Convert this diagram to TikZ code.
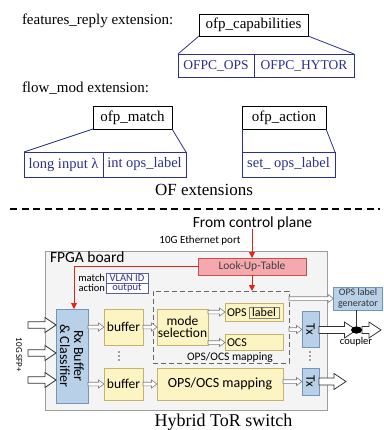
\documentclass[tikz,border=0pt]{standalone}
\usepackage{fontspec}
\setmainfont{Liberation Serif}
\newfontfamily\carl{Carlito}
\usetikzlibrary{calc,arrows.meta,shapes.geometric}
\definecolor{navy}{HTML}{2B2F8F}
\definecolor{boxblue}{HTML}{5B5EA6}
\definecolor{yfill}{HTML}{FDF4C3}
\definecolor{yline}{HTML}{C4B46A}
\definecolor{bfill}{HTML}{B8D0E8}
\definecolor{bline}{HTML}{7494BC}
\definecolor{lutfill}{HTML}{F5A9AE}
\definecolor{lutline}{HTML}{C0504D}
\definecolor{redarrow}{HTML}{E2231A}
\definecolor{boardfill}{HTML}{F4F4F4}
\definecolor{boardline}{HTML}{9C9C9C}
\definecolor{agray}{HTML}{7F7F7F}
\newcommand{\myfs}[2]{\fontsize{#1}{#2}\selectfont}
\tikzset{
 every node/.style={inner sep=0pt, outer sep=0pt},
 sbox/.style={draw=black, line width=0.8pt, fill=white, font=\myfs{15}{17}},
 nbox/.style={draw=navy, line width=0.8pt, fill=white, text=navy},
 link/.style={draw=navy, line width=0.8pt},
 ybox/.style={draw=yline, fill=yfill, line width=0.7pt, align=center, font=\carl\myfs{13.5}{13.5}},
 bbox/.style={draw=bline, fill=bfill, line width=0.7pt},
 redline/.style={draw=redarrow, line width=0.9pt, -{Triangle[length=6pt,width=6pt]}},
 harrow/.style n args={3}{fill=white, line join=miter,
   to path={($(\tikztostart)+(0,#1)$) -- ($(\tikztotarget)+(-#3,#1)$) -- ($(\tikztotarget)+(-#3,#2)$) -- (\tikztotarget) -- ($(\tikztotarget)+(-#3,-#2)$) -- ($(\tikztotarget)+(-#3,-#1)$) -- ($(\tikztostart)+(0,-#1)$) -- cycle}},
 sarrow/.style={harrow={1.8}{4}{5.5}, draw=agray, line width=0.6pt},
 barrow/.style={harrow={3.2}{7.5}{11}, draw=black!80, line width=0.8pt},
 vdot/.style={fill=black!70, radius=0.9pt},
}
\begin{document}
\begin{tikzpicture}[x=1pt,y=-1pt]
\useasboundingbox (0,0) rectangle (383,430);

% ---------------- OF extensions ----------------
\node[anchor=base west, font=\myfs{15}{17}] (fr) at (22,25) {features\_reply extension:};
\node[sbox, minimum width=109, minimum height=22] (cap) at (253.5,25) {ofp\_capabilities};
\node[nbox, minimum width=76, minimum height=23, font=\myfs{13.5}{15}] (ops) at (216,65.5) {OFPC\_OPS};
\node[nbox, minimum width=100, minimum height=23, font=\myfs{13.5}{15}] (hytor) at (304,65.5) {OFPC\_HYTOR};
\draw[link] (cap.south west) -- (ops.north west);
\draw[link] (cap.south east) -- (hytor.north east);

\node[anchor=base west, font=\myfs{15}{17}] (fm) at (22,93) {flow\_mod extension:};
\node[sbox, minimum width=79, minimum height=23] (match) at (132.5,117.5) {ofp\_match};
\node[nbox, minimum width=79, minimum height=25, font=\myfs{14.5}{16}] (longin) at (63.5,164.5) {long input λ};
\node[nbox, minimum width=83, minimum height=25, font=\myfs{14.5}{16}] (intops) at (144.5,164.5) {int ops\_label};
\draw[link] (match.south west) -- (longin.north west);
\draw[link] (match.south east) -- (intops.north east);

\node[sbox, minimum width=84, minimum height=23] (action) at (284,117.5) {ofp\_action};
\node[nbox, minimum width=93, minimum height=25, font=\myfs{14.5}{16}] (setops) at (288.5,164.5) {set\_ ops\_label};
\draw[link] (action.south west) -- (setops.north west);
\draw[link] (action.south east) -- (setops.north east);

\node[anchor=base, font=\myfs{17}{19}] (ofx) at (204,196) {OF extensions};

\draw[line width=1.8pt, dash pattern=on 7pt off 4.5pt] (10,209) -- (380,209);

% ---------------- Hybrid ToR switch ----------------
\node[anchor=base, font=\carl\myfs{15.5}{17}] (from) at (252.5,227) {From control plane};
\node[anchor=base, font=\carl\myfs{11}{12}] (eth) at (200,243) {10G Ethernet port};

\node[draw=boardline, fill=boardfill, line width=1pt, minimum width=282, minimum height=159, anchor=north west] (fpga) at (45,251) {};
\node[anchor=base west, font=\carl\myfs{15.5}{17}] (fpgat) at (50,262) {FPGA board};

\node[draw=lutline, fill=lutfill, line width=0.7pt, minimum width=108, minimum height=17, font=\carl\myfs{11.5}{12}, text=black!75] (lut) at (252,266.5) {Look-Up-Table};

% dashed mapping box
\node[draw=black!60, dashed, dash pattern=on 5pt off 3pt, line width=1pt, minimum width=136, minimum height=72, anchor=north west] (map) at (153,291) {};
\node[anchor=base, font=\carl\myfs{11.5}{12}] (mapt) at (230,360) {OPS/OCS mapping};

% match / action
\node[anchor=base east, font=\carl\myfs{10.5}{11}] (mt) at (105,281) {match};
\node[anchor=base east, font=\carl\myfs{10.5}{11}] (at) at (105,291.5) {action};
\node[draw=boxblue, fill=white, line width=0.8pt, minimum width=42, minimum height=10, font=\carl\myfs{10.5}{11}, text=navy] (vlan) at (127,278) {VLAN ID};
\node[draw=boxblue, fill=white, line width=0.8pt, minimum width=42, minimum height=10.5, font=\carl\myfs{10.5}{11}, text=navy] (outp) at (127,288.25) {output};

% Rx
\node[bbox, minimum width=32, minimum height=94] (rx) at (72,356) {};
\node[rotate=-90, align=center, font=\carl\myfs{14}{14}] (rxt) at (rx.center) {Rx Buffer\\\& Classifier};

% buffers
\node[ybox, minimum width=39, minimum height=36] (buf1) at (123.5,327) {buffer};
\node[ybox, minimum width=39, minimum height=32] (buf2) at (123.5,384) {buffer};
\fill[vdot] (119,352) circle[radius=0.9pt] (119,356) circle[radius=0.9pt] (119,360) circle[radius=0.9pt];

\node[ybox, minimum width=51, minimum height=36] (mode) at (182.5,327) {mode\\[-1pt]selection};
\node[ybox, minimum width=58, minimum height=18] (opsb) at (254,312) {};
\node[anchor=west, font=\carl\myfs{12}{12}] (opst) at (227,312.5) {OPS};
\node[draw=agray, fill=yfill, line width=0.7pt, minimum width=30, minimum height=11, font=\carl\myfs{12}{12}] (lbl) at (264,312.5) {label};
\node[ybox, minimum width=58, minimum height=16, text width=54, align=left, font=\carl\myfs{12}{12}] (ocs) at (254,342.5) {OCS};

\node[ybox, minimum width=126, minimum height=32, font=\carl\myfs{14}{14}] (map2) at (220,384) {OPS/OCS mapping};

% Tx
\node[bbox, minimum width=17, minimum height=36] (tx1) at (310.5,329.5) {};
\node[rotate=-90, font=\carl\myfs{13}{13}] (tx1t) at (tx1.center) {Tx};
\node[bbox, minimum width=17, minimum height=27] (tx2) at (310.5,381.5) {};
\node[rotate=-90, font=\carl\myfs{13}{13}] (tx2t) at (tx2.center) {Tx};
\fill[vdot] (310,352) circle[radius=0.9pt] (310,356) circle[radius=0.9pt] (310,360) circle[radius=0.9pt];

% OPS label generator & coupler
\node[bbox, minimum width=49, minimum height=23, align=center, font=\carl\myfs{10}{10.5}, text=black!80] (gen) at (358,298.5) {OPS label\\generator};
\node[ellipse, fill=black, minimum width=11, minimum height=7] (coup) at (356.5,330) {};
\node[anchor=base, font=\carl\myfs{10.5}{11}] (coupt) at (356,344) {coupler};

% 10G SFP+ label
\node[rotate=-90, font=\carl\myfs{9}{9}] (sfp) at (19,355) {10G SFP+};

% red control connectors
\draw[redline] (from.south -| lut.north) -- (lut.north);
\coordinate (rxin) at ($(rx.north)+(2,0)$);
\draw[redline] (lut.west) -| (rxin);
\draw[redline] (lut.south) -- (lut.south |- map.north);

% input arrows
\coordinate (in1) at (28,325);
\coordinate (in2) at (28,353);
\coordinate (in3) at (28,380);
\draw[barrow] (in1) to (rx.west |- in1);
\draw[barrow] (in2) to (rx.west |- in2);
\draw[barrow] (in3) to (rx.west |- in3);

% small internal arrows
\coordinate (r1) at (rx.east |- buf1.west);
\draw[sarrow] (r1) to (buf1.west);
\coordinate (r2) at (rx.east |- buf2.west);
\draw[sarrow] (r2) to (buf2.west);
\draw[sarrow] (buf1.east) to (mode.west);
\draw[sarrow] (buf2.east) to (map2.west);
\coordinate (m1) at (mode.east |- opsb.west);
\draw[sarrow] (m1) to (opsb.west);
\coordinate (m2) at (mode.east |- ocs.west);
\draw[sarrow] (m2) to (ocs.west);
\coordinate (d1) at (map.east |- tx1.west);
\draw[sarrow] (d1) to (tx1.west);
\coordinate (d2) at (map2.east |- tx2.west);
\draw[sarrow] (d2) to (tx2.west);
\coordinate (g1) at (map.east |- gen.west);
\draw[sarrow] (g1) to (gen.west);

% outputs
\draw[black!80, line width=0.8pt] (coup.north |- gen.south) -- (coup.north);
\coordinate (t1) at (tx1.east |- coup.center);
\draw[harrow={3.5}{8}{12}, draw=black!80, line width=0.8pt] (t1) to (coup.center);
\coordinate (outc) at (381,330);
\draw[harrow={3.5}{8}{12}, draw=black!80, line width=0.8pt] (coup.east) to (outc);
\node[ellipse, fill=black, minimum width=11, minimum height=7] at (coup.center) {};
\coordinate (out2) at (346,381.5);
\draw[harrow={3.5}{8}{12}, draw=black!80, line width=0.8pt] (tx2.east) to (out2);

\node[anchor=base, font=\myfs{18}{20}] (hyb) at (223.5,426) {Hybrid ToR switch};
\end{tikzpicture}
\end{document}
